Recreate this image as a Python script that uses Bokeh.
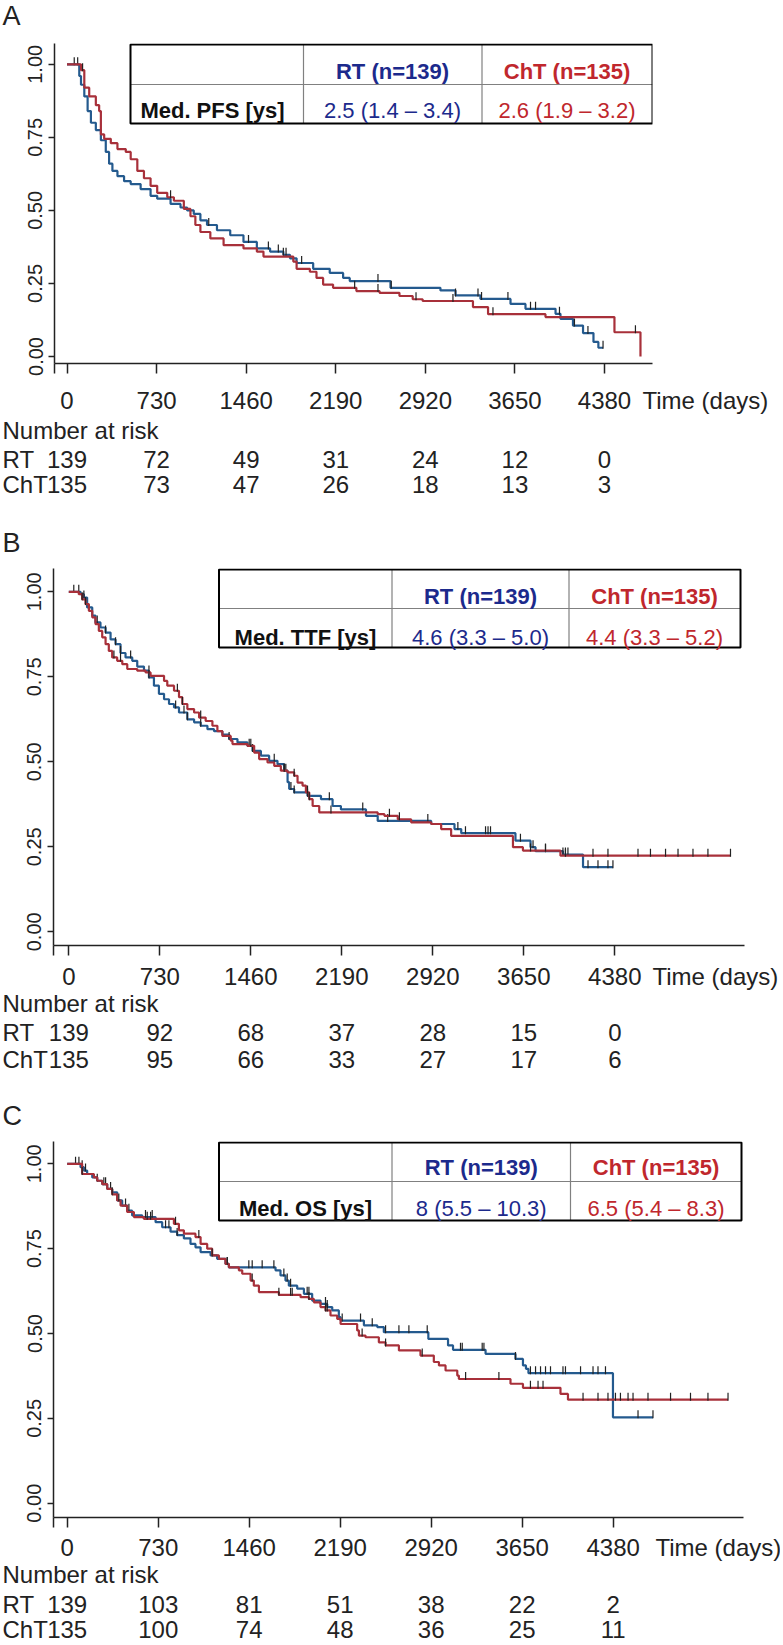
import numpy as np
from bokeh.plotting import figure
from bokeh.models import Range1d, FixedTicker, NumeralTickFormatter
from bokeh.layouts import column
from bokeh.embed import file_html
from bokeh.resources import INLINE
from bokeh.core.properties import value

# ---------------- data ----------------
time_ticks = [0, 730, 1460, 2190, 2920, 3650, 4380]
surv_ticks = [0.0, 0.25, 0.50, 0.75, 1.0]
group_names = ["RT", "ChT"]
header = ["RT (n=139)", "ChT (n=135)"]

# Panel A: progression-free survival (time in days, survival)
pfs_rt = [(0, 1.0), (100, 0.96), (114, 0.93), (141, 0.89), (168, 0.84), (195, 0.80), (235, 0.775),
          (276, 0.74), (316, 0.70), (343, 0.66), (370, 0.635), (411, 0.617), (465, 0.60), (519, 0.59),
          (600, 0.573), (681, 0.55), (735, 0.54), (844, 0.522), (925, 0.51), (979, 0.50), (1033, 0.488),
          (1087, 0.466), (1141, 0.45), (1222, 0.432), (1330, 0.415), (1438, 0.392), (1547, 0.37),
          (1655, 0.359), (1763, 0.348), (1817, 0.336), (1871, 0.32), (2006, 0.30), (2141, 0.286),
          (2250, 0.269), (2304, 0.258), (2636, 0.235), (3043, 0.226), (3166, 0.209), (3369, 0.197),
          (3614, 0.18), (3736, 0.163), (3981, 0.146), (4021, 0.129), (4123, 0.106), (4205, 0.08),
          (4290, 0.05), (4330, 0.03), (4368, 0.03)]
pfs_cht = [(0, 1.0), (114, 0.98), (141, 0.92), (181, 0.89), (235, 0.86), (262, 0.84), (276, 0.76),
           (303, 0.745), (357, 0.73), (411, 0.71), (479, 0.70), (519, 0.675), (573, 0.635), (627, 0.61),
           (681, 0.584), (735, 0.56), (817, 0.545), (871, 0.533), (952, 0.505), (1006, 0.48), (1046, 0.45),
           (1087, 0.426), (1168, 0.404), (1276, 0.381), (1438, 0.37), (1547, 0.359), (1601, 0.342),
           (1844, 0.325), (1871, 0.30), (1979, 0.29), (2033, 0.269), (2087, 0.246), (2168, 0.235),
           (2358, 0.224), (2547, 0.218), (2709, 0.207), (2817, 0.196), (2898, 0.19), (3308, 0.169),
           (3431, 0.145), (3899, 0.135), (4461, 0.083), (4673, 0.0)]
pfs_rt_cens = [59, 87, 1155, 1479, 1641, 1722, 1763, 1785, 1912, 2534, 2642, 3166, 3349, 3378, 3593,
               3777, 3818, 4013, 4135, 4245, 4368]
pfs_cht_cens = [127, 844, 2344, 2534, 2844, 3145, 3471, 4632]
pfs_risk_rt = [139, 72, 49, 31, 24, 12, 0]
pfs_risk_cht = [135, 73, 47, 26, 18, 13, 3]
pfs_med = ["2.5 (1.4 \u2013 3.4)", "2.6 (1.9 \u2013 3.2)"]

# Panel B: time to treatment failure
ttf_rt = [(0, 1.0), (94, 0.993), (121, 0.983), (147, 0.954), (188, 0.93), (214, 0.91), (254, 0.895),
          (295, 0.88), (335, 0.86), (375, 0.846), (415, 0.82), (455, 0.807), (509, 0.797), (549, 0.78),
          (603, 0.768), (643, 0.748), (683, 0.724), (723, 0.70), (764, 0.684), (804, 0.67), (844, 0.66),
          (884, 0.645), (951, 0.625), (1005, 0.616), (1058, 0.606), (1112, 0.596), (1165, 0.59),
          (1232, 0.58), (1286, 0.567), (1353, 0.557), (1433, 0.547), (1474, 0.532), (1541, 0.518),
          (1607, 0.503), (1674, 0.493), (1728, 0.474), (1755, 0.44), (1768, 0.42), (1808, 0.41),
          (1915, 0.40), (2023, 0.39), (2116, 0.37), (2183, 0.36), (2384, 0.341), (2478, 0.326),
          (2907, 0.317), (3094, 0.302), (3148, 0.29), (3583, 0.268), (3704, 0.249), (3744, 0.237),
          (3964, 0.227), (4125, 0.19), (4365, 0.19)]
ttf_cht = [(0, 1.0), (80, 0.993), (107, 0.978), (134, 0.964), (161, 0.944), (188, 0.925), (214, 0.905),
           (241, 0.885), (268, 0.866), (295, 0.846), (321, 0.826), (348, 0.807), (388, 0.797), (429, 0.787),
           (469, 0.773), (549, 0.768), (616, 0.763), (656, 0.753), (764, 0.738), (790, 0.724), (844, 0.709),
           (884, 0.69), (911, 0.67), (951, 0.655), (1005, 0.645), (1045, 0.63), (1098, 0.62), (1152, 0.606),
           (1192, 0.59), (1232, 0.576), (1299, 0.562), (1313, 0.552), (1433, 0.547), (1487, 0.527),
           (1527, 0.508), (1594, 0.498), (1648, 0.488), (1701, 0.474), (1755, 0.469), (1808, 0.459),
           (1835, 0.439), (1875, 0.43), (1902, 0.41), (1929, 0.39), (1956, 0.37), (2009, 0.351),
           (2478, 0.346), (2532, 0.341), (2639, 0.331), (2746, 0.322), (2907, 0.317), (2987, 0.302),
           (3067, 0.282), (3563, 0.249), (3643, 0.239), (3944, 0.224), (5308, 0.224)]
ttf_rt_cens = [40, 80, 121, 228, 295, 375, 415, 496, 643, 857, 924, 951, 1058, 1286, 1447, 1474, 1648,
               1728, 1741, 1782, 1808, 1915, 2090, 2358, 2558, 2880, 3121, 3182, 3343, 3363, 3383, 3623,
               3724, 3824, 3964, 3984, 4004, 4165, 4245, 4325, 4365]
ttf_cht_cens = [107, 134, 362, 415, 643, 871, 911, 1058, 1460, 1728, 1808, 1915, 1929, 2103, 2572, 2652,
                3704, 3824, 3984, 4205, 4325, 4566, 4666, 4787, 4887, 5007, 5127, 5308]
ttf_risk_rt = [139, 92, 68, 37, 28, 15, 0]
ttf_risk_cht = [135, 95, 66, 33, 27, 17, 6]
ttf_med = ["4.6 (3.3 \u2013 5.0)", "4.4 (3.3 \u2013 5.2)"]

# Panel C: overall survival
os_rt = [(0, 1.0), (107, 0.99), (134, 0.98), (160, 0.97), (201, 0.96), (241, 0.95), (281, 0.94),
         (321, 0.926), (361, 0.916), (401, 0.892), (441, 0.877), (481, 0.862), (521, 0.848), (602, 0.843),
         (709, 0.828), (762, 0.813), (829, 0.80), (882, 0.79), (936, 0.78), (989, 0.764), (1029, 0.754),
         (1070, 0.74), (1150, 0.73), (1203, 0.72), (1270, 0.705), (1297, 0.695), (1671, 0.686),
         (1711, 0.671), (1751, 0.656), (1778, 0.641), (1845, 0.632), (1899, 0.617), (1965, 0.597),
         (2032, 0.587), (2086, 0.578), (2126, 0.568), (2179, 0.548), (2193, 0.538), (2380, 0.524),
         (2487, 0.519), (2540, 0.504), (2897, 0.484), (3055, 0.465), (3095, 0.452), (3356, 0.44),
         (3596, 0.425), (3656, 0.406), (3680, 0.396), (3700, 0.383), (4378, 0.253), (4699, 0.253)]
os_cht = [(0, 1.0), (120, 0.97), (214, 0.96), (241, 0.95), (281, 0.94), (321, 0.926), (361, 0.91),
          (401, 0.892), (428, 0.877), (481, 0.858), (535, 0.843), (615, 0.838), (856, 0.823), (896, 0.804),
          (936, 0.794), (1029, 0.784), (1070, 0.764), (1123, 0.75), (1163, 0.73), (1217, 0.72),
          (1270, 0.705), (1297, 0.695), (1377, 0.686), (1404, 0.676), (1471, 0.656), (1497, 0.641),
          (1538, 0.622), (1698, 0.614), (1872, 0.607), (1939, 0.602), (1979, 0.592), (2032, 0.578),
          (2072, 0.568), (2112, 0.553), (2166, 0.543), (2193, 0.528), (2326, 0.509), (2340, 0.494),
          (2393, 0.489), (2500, 0.474), (2554, 0.465), (2661, 0.45), (2834, 0.435), (2941, 0.416),
          (2982, 0.406), (3035, 0.391), (3129, 0.376), (3142, 0.366), (3556, 0.352), (3656, 0.34),
          (3957, 0.322), (4017, 0.305), (5301, 0.305)]
os_rt_cens = [67, 94, 120, 147, 241, 294, 308, 348, 468, 495, 628, 682, 789, 816, 882, 1284, 1457, 1484,
              1564, 1658, 1738, 1765, 1792, 1925, 1939, 2072, 2086, 2206, 2353, 2447, 2554, 2661, 2741,
              2888, 3155, 3169, 3329, 3343, 3596, 3716, 3757, 3797, 3837, 3877, 3977, 3997, 4118, 4218,
              4258, 4318, 4579, 4699]
os_cht_cens = [120, 361, 414, 642, 669, 869, 1056, 1163, 1284, 1484, 1698, 1792, 1805, 1939, 2072, 2086,
               2366, 2554, 2848, 3196, 3463, 3716, 3777, 3817, 4138, 4258, 4338, 4398, 4438, 4499, 4539,
               4659, 4840, 5000, 5140, 5301]
os_risk_rt = [139, 103, 81, 51, 38, 22, 2]
os_risk_cht = [135, 100, 74, 48, 36, 25, 11]
os_med = ["8 (5.5 \u2013 10.3)", "6.5 (5.4 \u2013 8.3)"]

# ---------------- styling / layout (pixel geometry) ----------------
FONT = "Liberation Sans"
BLUE = "#245a8e"
RED = "#a8303a"
NAVY = "#1c2a8c"
CRIMSON = "#c0272d"
INK = "#222222"
W = 780

panels = [
    dict(letter="A", tops=(0, 38, 380, 505), cal=(66.5, 0.12272, 63.8, 356.0), frame=(54, 652, 43, 363),
         tab_x=(130, 303, 481.5, 652), tab_y=(44, 84, 123), tab_cx=(212, 392, 566.5), tab_mid=(71, 109.5),
         letter_y=15.5, tick_y=400, time_x=642, nar_y=430, rt_y=459, cht_y=484,
         label="Med. PFS [ys]", med=pfs_med, rt=pfs_rt, cht=pfs_cht, rt_c=pfs_rt_cens, cht_c=pfs_cht_cens,
         risk_rt=pfs_risk_rt, risk_cht=pfs_risk_cht),
    dict(letter="B", tops=(505, 563, 956, 1075), cal=(68.3, 0.12466, 591.3, 931.3), frame=(53, 744, 568, 945),
         tab_x=(218.5, 391.5, 568.5, 740), tab_y=(569, 608, 647), tab_cx=(305, 480, 654), tab_mid=(595.5, 637),
         letter_y=542, tick_y=976, time_x=652, nar_y=1003, rt_y=1032, cht_y=1059,
         label="Med. TTF [ys]", med=ttf_med, rt=ttf_rt, cht=ttf_cht, rt_c=ttf_rt_cens, cht_c=ttf_cht_cens,
         risk_rt=ttf_risk_rt, risk_cht=ttf_risk_cht),
    dict(letter="C", tops=(1075, 1136, 1528, 1645), cal=(66.7, 0.12466, 1163.3, 1502.7), frame=(53, 743, 1141, 1517),
         tab_x=(218.5, 391.5, 570, 741), tab_y=(1142, 1181, 1220), tab_cx=(305, 480.75, 655.5),
         tab_mid=(1167, 1207.5), letter_y=1115.5, tick_y=1547, time_x=655, nar_y=1574, rt_y=1604,
         cht_y=1629, label="Med. OS [ys]", med=os_med, rt=os_rt, cht=os_cht, rt_c=os_rt_cens,
         cht_c=os_cht_cens, risk_rt=os_risk_rt, risk_cht=os_risk_cht),
]


def style_fig(p):
    p.frame_align = False
    p.grid.grid_line_color = None
    p.outline_line_color = None
    p.background_fill_color = "white"
    p.border_fill_color = "white"


def blank(height, xr, yr):
    p = figure(width=W, height=height, x_range=xr, y_range=yr, min_border=0,
               x_axis_location=None, y_axis_location=None, output_backend="svg",
               toolbar_location=None, title=None)
    style_fig(p)
    return p


def txt(p, x, y, s, size="24px", align="left", color=INK, style="normal"):
    p.text(x=x, y=y, text=s, text_font=value(FONT), text_font_size=size, text_font_style=style,
           text_align=align, text_baseline="middle", text_color=color)


def build(cfg):
    d0, kx, y1px, y0px = cfg["cal"]
    ky = y0px - y1px
    lf_top, kf_top, rf_top, rf_bot = cfg["tops"]
    L, R, T, B = cfg["frame"]

    def dx(rx):
        return (rx - d0) / kx

    def dv(ry):
        return (y0px - ry) / ky

    # --- panel letter ---
    hl = kf_top - lf_top
    pl = blank(hl, Range1d(0, W), Range1d(hl, 0))
    txt(pl, [2], [cfg["letter_y"] - lf_top], [cfg["letter"]], size="27px")

    # --- Kaplan-Meier plot ---
    hk = rf_top - kf_top
    p = figure(width=W, height=hk, x_range=Range1d(dx(L), dx(R)), y_range=Range1d(dv(B), dv(T)),
               min_border_left=L, min_border_right=W - R, min_border_top=T - kf_top,
               min_border_bottom=rf_top - B, output_backend="svg", toolbar_location=None, title=None)
    style_fig(p)

    xa, ya = p.xaxis[0], p.yaxis[0]
    edge = dx(L) + 1e-6
    xticks = [edge] + time_ticks
    xa.ticker = FixedTicker(ticks=xticks, minor_ticks=[])
    xa.major_label_overrides = {t: "" for t in xticks}
    xa.major_label_text_font_size = "1px"
    xa.major_label_standoff = 0
    ya.ticker = FixedTicker(ticks=surv_ticks, minor_ticks=[])
    ya.formatter = NumeralTickFormatter(format="0.00")
    ya.major_label_orientation = "vertical"
    for ax in (xa, ya):
        ax.axis_line_color = INK
        ax.axis_line_width = 1.5
        ax.major_tick_line_color = INK
        ax.major_tick_line_width = 1.5
        ax.minor_tick_line_color = None
        ax.major_tick_in = 0
        ax.major_label_text_font = FONT
        ax.major_label_text_color = INK
    xa.major_tick_out = 10
    ya.major_tick_out = 6
    ya.major_label_text_font_size = "20px"
    ya.major_label_standoff = 6

    mark_lift = 3.0 / ky  # censor ticks sit slightly above the curve
    for curve, cens, col in ((cfg["rt"], cfg["rt_c"], BLUE), (cfg["cht"], cfg["cht_c"], RED)):
        t = [c[0] for c in curve]
        s = [c[1] for c in curve]
        p.step(t, s, mode="after", line_color=col, line_width=2.2)
        cy = [s[max(0, np.searchsorted(t, c, side="right") - 1)] + mark_lift for c in cens]
        p.scatter(cens, cy, marker="dash", angle=np.pi / 2, size=8, line_color=INK, line_width=1.2)

    # median table
    tx, ty = cfg["tab_x"], cfg["tab_y"]
    p.quad(left=[dx(tx[0])], right=[dx(tx[3])], top=[dv(ty[0])], bottom=[dv(ty[2])],
           fill_color="white", line_color=None)
    p.segment(x0=[dx(tx[0])], y0=[dv(ty[1])], x1=[dx(tx[3])], y1=[dv(ty[1])],
              line_color="#808080", line_width=1.2)
    p.segment(x0=[dx(tx[1]), dx(tx[2])], y0=[dv(ty[0])] * 2, x1=[dx(tx[1]), dx(tx[2])],
              y1=[dv(ty[2])] * 2, line_color="#808080", line_width=1.2)
    p.quad(left=[dx(tx[0])], right=[dx(tx[3])], top=[dv(ty[0])], bottom=[dv(ty[2])],
           fill_color=None, line_color="black", line_width=2)
    cx, mid = cfg["tab_cx"], cfg["tab_mid"]
    txt(p, [dx(cx[1]), dx(cx[2])], [dv(mid[0])] * 2, header, size="22px", align="center",
        color=[NAVY, CRIMSON], style="bold")
    txt(p, [dx(cx[0])], [dv(mid[1])], [cfg["label"]], size="22px", align="center", color="#111111",
        style="bold")
    txt(p, [dx(cx[1]), dx(cx[2])], [dv(mid[1])] * 2, cfg["med"], size="22px", align="center",
        color=[NAVY, CRIMSON])

    # --- tick labels and number-at-risk table ---
    hr = rf_bot - rf_top
    pr = blank(hr, Range1d(dx(0), dx(W)), Range1d(hr, 0))
    ty_ = cfg["tick_y"] - rf_top
    txt(pr, time_ticks, [ty_] * len(time_ticks), [str(t) for t in time_ticks], align="center")
    txt(pr, [dx(cfg["time_x"])], [ty_], ["Time (days)"])
    txt(pr, [dx(2)], [cfg["nar_y"] - rf_top], ["Number at risk"])
    txt(pr, [dx(2), dx(2)], [cfg["rt_y"] - rf_top, cfg["cht_y"] - rf_top], group_names)
    txt(pr, time_ticks, [cfg["rt_y"] - rf_top] * len(time_ticks), [str(n) for n in cfg["risk_rt"]],
        align="center")
    txt(pr, time_ticks, [cfg["cht_y"] - rf_top] * len(time_ticks), [str(n) for n in cfg["risk_cht"]],
        align="center")
    return [pl, p, pr]


figs = []
for c in panels:
    figs.extend(build(c))
layout = column(*figs, spacing=0)
open("out.html", "w").write(file_html(layout, INLINE, "Kaplan-Meier"))
